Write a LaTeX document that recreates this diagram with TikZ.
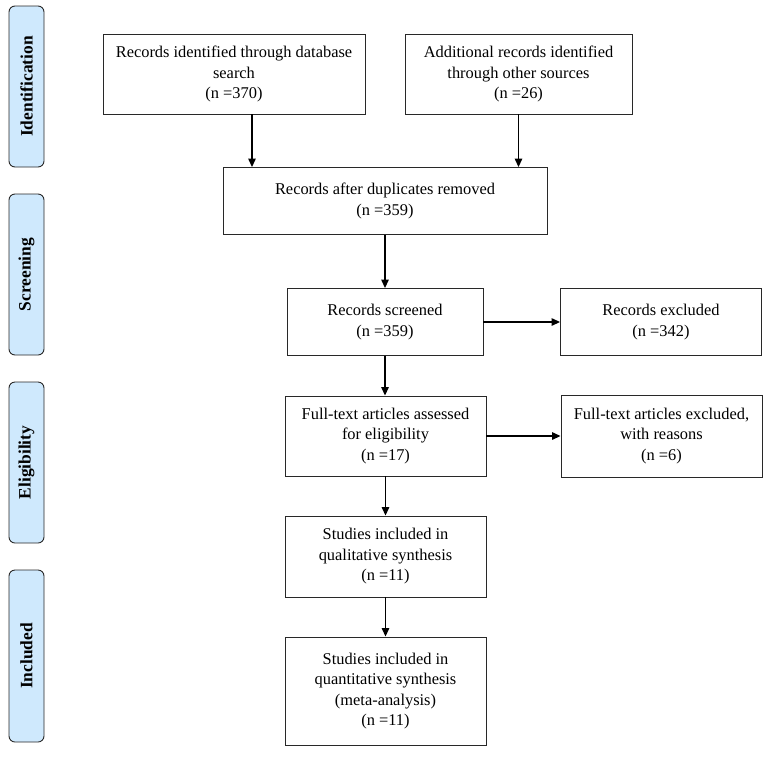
\documentclass[tikz,border=0pt]{standalone}
\usepackage{fontspec}
\setmainfont{Liberation Serif}
\usepackage{tikz}
\usetikzlibrary{arrows.meta}
\definecolor{phaseblue}{RGB}{207, 233, 253}
\definecolor{edgegray}{RGB}{40, 40, 40}
\tikzset{
    flowbox/.style={draw=edgegray, line width=0.9pt, align=center, inner sep=2pt,
        font=\fontsize{16.4}{20.5}\selectfont},
    phase/.style={draw=edgegray, fill=phaseblue, line width=0.9pt, rounded corners=6pt,
        rotate=90, minimum height=35pt, inner sep=0pt,
        font=\fontsize{17.4}{20}\selectfont\bfseries},
    flow/.style={line width=1.3pt, -{Triangle[length=8.5pt,width=7.5pt]}}
}

\begin{document}
\begin{tikzpicture}[x=1pt,y=-1pt]
    \useasboundingbox (0,0) rectangle (773,756);

    % phase labels
    \node[phase, minimum width=161pt] (ident) at (26.5,86.5) {Identification};
    \node[phase, minimum width=161pt] (screen) at (26.5,274.5) {Screening};
    \node[phase, minimum width=161pt] (elig) at (26.5,462.5) {Eligibility};
    \node[phase, minimum width=172pt] (incl) at (26.5,656) {Included};

    % boxes
    \node[flowbox, minimum width=262pt, minimum height=80pt] (dbsearch) at (234,74)
        {Records identified through database\\search\\(n =370)};
    \node[flowbox, minimum width=227pt, minimum height=80pt] (othersrc) at (518.5,74)
        {Additional records identified\\through other sources\\(n =26)};
    \node[flowbox, minimum width=324pt, minimum height=67pt] (nodup) at (385,201)
        {Records after duplicates removed\\(n =359)};
    \node[flowbox, minimum width=196pt, minimum height=67pt] (screened) at (385,322)
        {Records screened\\(n =359)};
    \node[flowbox, minimum width=201pt, minimum height=67pt] (excluded) at (661,322)
        {Records excluded\\(n =342)};
    \node[flowbox, minimum width=201pt, minimum height=80pt] (fulltext) at (385.5,436)
        {Full-text articles assessed\\for eligibility\\(n =17)};
    \node[flowbox, minimum width=201pt, minimum height=82pt] (ftexcl) at (661.5,436)
        {Full-text articles excluded,\\with reasons\\(n =6)};
    \node[flowbox, minimum width=201pt, minimum height=81pt] (qual) at (385.5,556.5)
        {Studies included in\\qualitative synthesis\\(n =11)};
    \node[flowbox, minimum width=201pt, minimum height=108pt] (quant) at (385.5,691)
        {Studies included in\\quantitative synthesis\\(meta-analysis)\\(n =11)};

    % arrows
    \draw[flow] ([xshift=18pt]dbsearch.south) -- ([xshift=18pt]dbsearch.south |- nodup.north);
    \draw[flow] (othersrc.south) -- (othersrc.south |- nodup.north);
    \draw[flow] (nodup.south) -- (screened.north);
    \draw[flow] (screened.east) -- (excluded.west);
    \draw[flow] (screened.south) -- (fulltext.north -| screened.south);
    \draw[flow] (fulltext.east) -- (ftexcl.west);
    \draw[flow] (fulltext.south) -- (qual.north);
    \draw[flow] (qual.south) -- (quant.north);
\end{tikzpicture}
\end{document}
